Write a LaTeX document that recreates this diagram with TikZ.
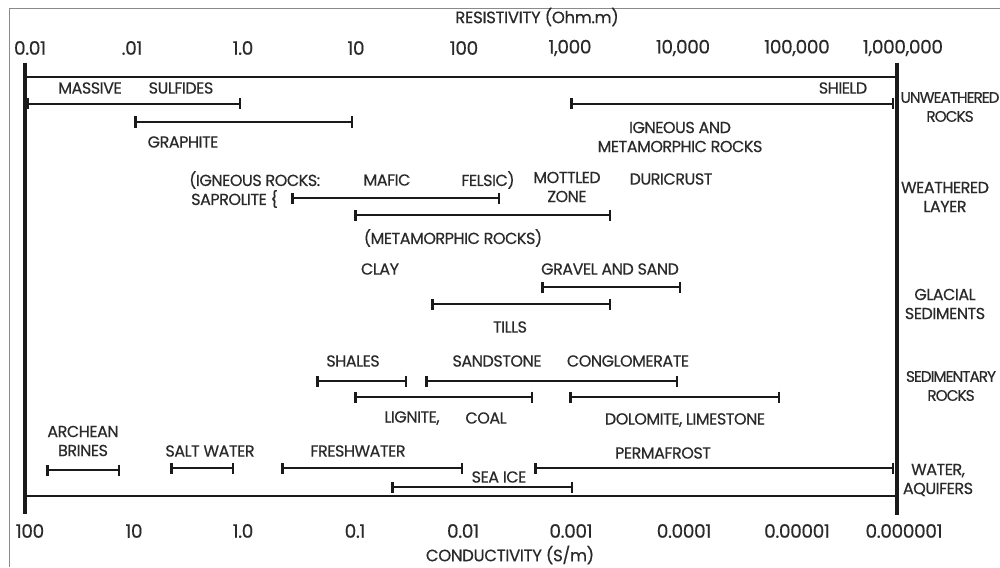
\documentclass[tikz,border=0pt]{standalone}
\usepackage{fontspec}
\setmainfont{Poppins}
\newfontfamily\lblfont[LetterSpace=-3,FakeBold=0.4]{Poppins}
\newfontfamily\narrowfont[LetterSpace=-6.5,FakeBold=0.4]{Poppins}
\newfontfamily\tickfont[LetterSpace=-2,FakeBold=0.4]{Poppins}
\usetikzlibrary{arrows.meta}
\definecolor{txt}{HTML}{2A2A2A}
\definecolor{ln}{HTML}{1A1A1A}
\definecolor{frm}{HTML}{8A8A8A}
\begin{document}
\begin{tikzpicture}[x=1pt,y=-1pt,
  lbl/.style={font=\lblfont\fontsize{16}{19}\selectfont, text=txt, inner sep=0pt, align=center},
  narrowlbl/.style={font=\narrowfont\fontsize{15.3}{19}\selectfont, text=txt, inner sep=0pt, align=center},
  tick/.style={font=\tickfont\fontsize{18.5}{20}\selectfont, text=txt, inner sep=0pt},
  ttl/.style={font=\tickfont\fontsize{16.5}{18}\selectfont, text=txt, inner sep=0pt},
  axis/.style={draw=ln, line width=3.2pt},
  hline/.style={draw=ln, line width=2.4pt},
  rangebar/.style={draw=ln, line width=2.9pt, {Bar[width=11pt,line width=2.9pt]}-{Bar[width=11pt,line width=2.9pt]}, shorten <=-1.4pt, shorten >=-1.4pt},
  frame/.style={draw=frm, line width=1pt}]
\useasboundingbox (0,0) rectangle (1000,567);
\fill[white] (0,0) rectangle (1000,567);
% outer frame
\coordinate (f1) at (9,567);
\coordinate (f2) at (9,9);
\coordinate (f3) at (1000,9);
\draw[frame] (f1) -- (f2) -- (f3);
% axes
\coordinate (lt) at (25,63);
\coordinate (lb) at (25,514);
\coordinate (rt) at (897,63);
\coordinate (rb) at (897,515);
\coordinate (tl) at (25,77);
\coordinate (tr) at (897,77);
\coordinate (bl) at (25,496);
\coordinate (br) at (897,496);
\draw[axis] (lt) -- (lb);
\draw[axis] (rt) -- (rb);
\draw[hline] (tl) -- (tr);
\draw[hline] (bl) -- (br);
% titles
\node[ttl] (rtitle) at (537,17) {RESISTIVITY (Ohm.m)};
\node[ttl] (ctitle) at (510,555) {CONDUCTIVITY (S/m)};
% top ticks
\node[tick] (t0) at (30,48) {0.01};
\node[tick] (t1) at (132,48) {.01};
\node[tick] (t2) at (243,48) {1.0};
\node[tick] (t3) at (356,48) {10};
\node[tick] (t4) at (464,48) {100};
\node[tick] (t5) at (570,48) {1,000};
\node[tick] (t6) at (683,48) {10,000};
\node[tick] (t7) at (797,48) {100,000};
\node[tick] (t8) at (903,48) {1,000,000};
% bottom ticks
\node[tick] (b0) at (30,531) {100};
\node[tick] (b1) at (134,531) {10};
\node[tick] (b2) at (243,531) {1.0};
\node[tick] (b3) at (355,531) {0.1};
\node[tick] (b4) at (463,531) {0.01};
\node[tick] (b5) at (571,531) {0.001};
\node[tick] (b6) at (684,531) {0.0001};
\node[tick] (b7) at (797,531) {0.00001};
\node[tick] (b8) at (904,531) {0.000001};
% category labels
\node[narrowlbl] (cu) at (950,107) {UNWEATHERED\\ROCKS};
\node[lbl] (cw) at (945,197) {WEATHERED\\LAYER};
\node[lbl] (cg) at (945,304) {GLACIAL\\SEDIMENTS};
\node[narrowlbl] (cs) at (951,386) {SEDIMENTARY\\ROCKS};
\node[lbl] (ca) at (938,480) {WATER,\\AQUIFERS};
% unweathered rocks
\coordinate (ms1) at (27,104); \coordinate (ms2) at (240,104);
\draw[rangebar] (ms1) -- (ms2);
\node[lbl] (massive) at (90,88) {MASSIVE};
\node[lbl] (sulf) at (181,88) {SULFIDES};
\coordinate (gr1) at (135,122); \coordinate (gr2) at (352,122);
\draw[rangebar] (gr1) -- (gr2);
\node[lbl] (graph) at (183,142) {GRAPHITE};
\coordinate (sh1) at (571,104); \coordinate (sh2) at (893,104);
\draw[rangebar] (sh1) -- (sh2);
\node[lbl] (shield) at (843,88) {SHIELD};
\node[lbl] (igm) at (680,137) {IGNEOUS AND\\METAMORPHIC ROCKS};
% weathered layer
\node[lbl, anchor=west] (ign) at (189,180) {(IGNEOUS ROCKS:};
\node[lbl, anchor=west] (sap) at (191,199) {SAPROLITE \{};
\node[lbl] (mafic) at (387,180) {MAFIC};
\node[lbl] (felsic) at (488,180) {FELSIC)};
\node[lbl] (mott) at (567,187) {MOTTLED\\ZONE};
\node[lbl] (duri) at (671,179) {DURICRUST};
\coordinate (wi1) at (292,198); \coordinate (wi2) at (499,198);
\draw[rangebar] (wi1) -- (wi2);
\coordinate (wm1) at (355,215); \coordinate (wm2) at (610,215);
\draw[rangebar] (wm1) -- (wm2);
\node[lbl] (metam) at (453,238) {(METAMORPHIC ROCKS)};
% glacial sediments
\node[lbl] (clay) at (380,269) {CLAY};
\node[lbl] (gravel) at (610,269) {GRAVEL AND SAND};
\coordinate (gv1) at (542,287); \coordinate (gv2) at (680,287);
\draw[rangebar] (gv1) -- (gv2);
\coordinate (ti1) at (432,304); \coordinate (ti2) at (610,304);
\draw[rangebar] (ti1) -- (ti2);
\node[lbl] (tills) at (510,327) {TILLS};
% sedimentary rocks
\node[lbl] (shales) at (353,361) {SHALES};
\node[lbl] (sand) at (497,361) {SANDSTONE};
\node[lbl] (cong) at (628,361) {CONGLOMERATE};
\coordinate (sl1) at (317,381); \coordinate (sl2) at (406,381);
\draw[rangebar] (sl1) -- (sl2);
\coordinate (ss1) at (426,381); \coordinate (ss2) at (677,381);
\draw[rangebar] (ss1) -- (ss2);
\coordinate (lg1) at (355,397); \coordinate (lg2) at (532,397);
\draw[rangebar] (lg1) -- (lg2);
\coordinate (dl1) at (570,397); \coordinate (dl2) at (779,397);
\draw[rangebar] (dl1) -- (dl2);
\node[lbl] (lign) at (412,418) {LIGNITE,};
\node[lbl] (coal) at (486,418) {COAL};
\node[lbl] (dolo) at (685,420) {DOLOMITE, LIMESTONE};
% water, aquifers
\node[lbl] (arch) at (83,441) {ARCHEAN\\BRINES};
\node[lbl] (salt) at (210,451) {SALT WATER};
\node[lbl] (fresh) at (358,451) {FRESHWATER};
\node[lbl] (perma) at (663,453) {PERMAFROST};
\node[lbl] (seaice) at (499,477) {SEA ICE};
\coordinate (ar1) at (47,470); \coordinate (ar2) at (119,470);
\draw[rangebar] (ar1) -- (ar2);
\coordinate (sw1) at (171,468); \coordinate (sw2) at (233,468);
\draw[rangebar] (sw1) -- (sw2);
\coordinate (fw1) at (282,468); \coordinate (fw2) at (462,468);
\draw[rangebar] (fw1) -- (fw2);
\coordinate (pf1) at (535,468); \coordinate (pf2) at (893,468);
\draw[rangebar] (pf1) -- (pf2);
\coordinate (si1) at (392,487); \coordinate (si2) at (572,487);
\draw[rangebar] (si1) -- (si2);
\end{tikzpicture}
\end{document}
